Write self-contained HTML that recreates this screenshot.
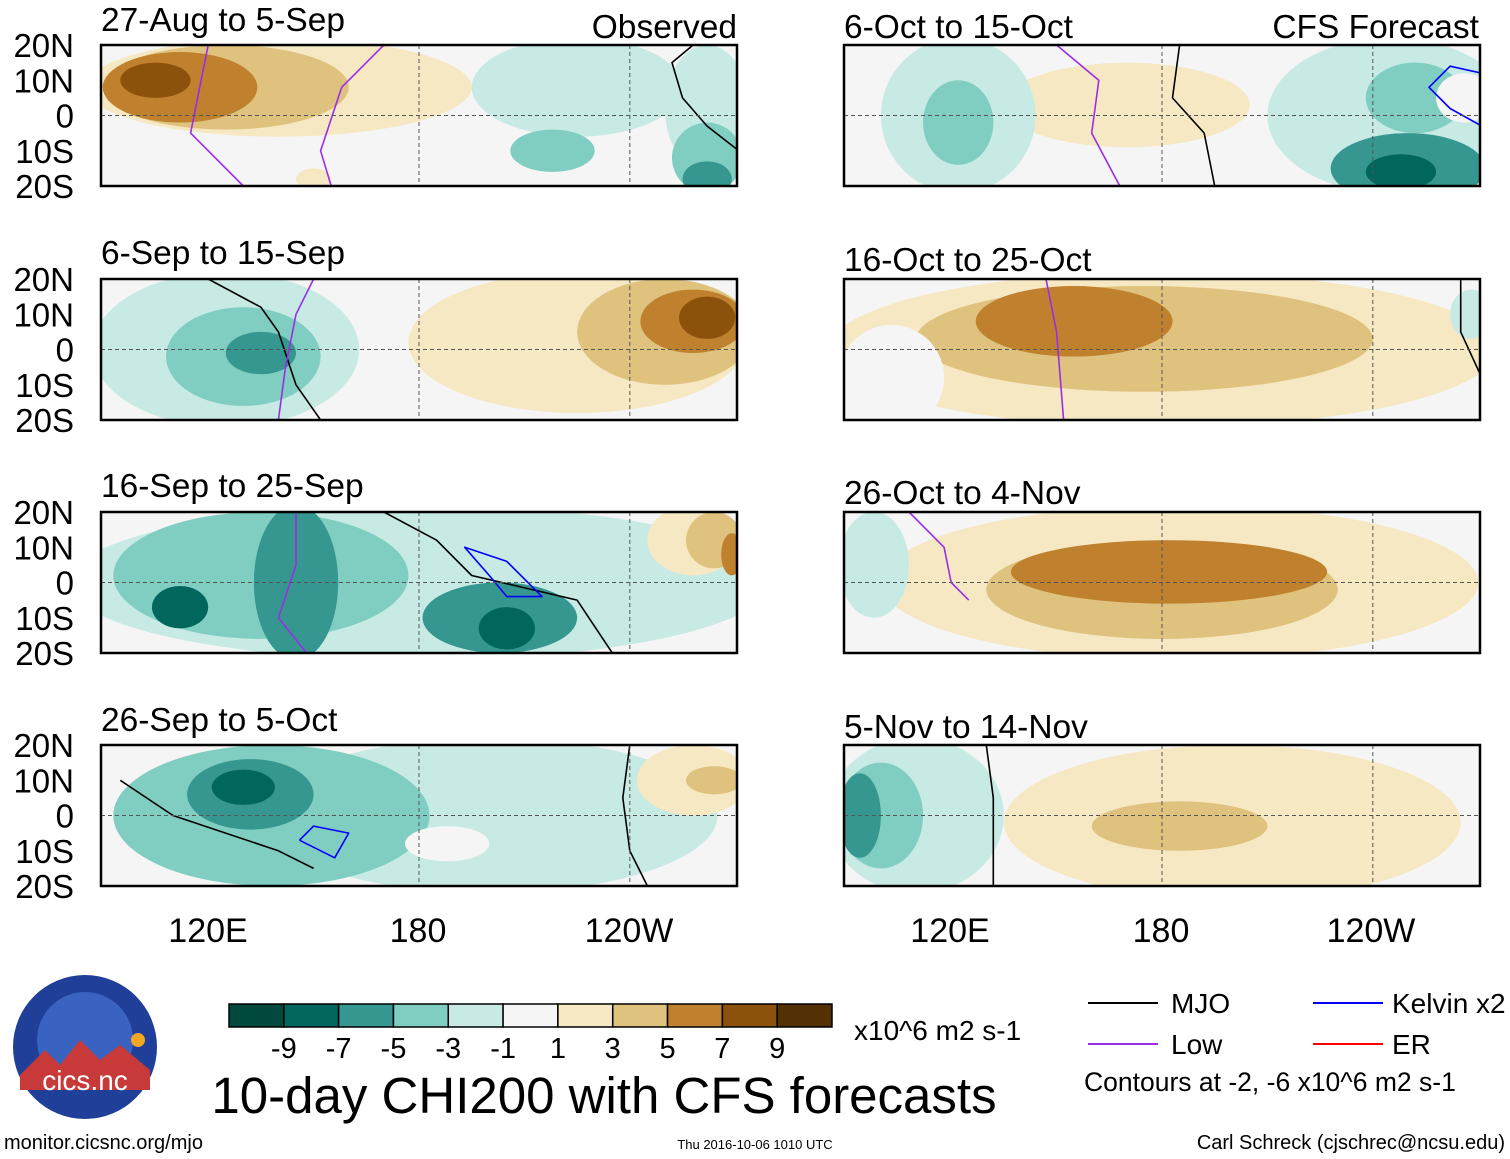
<!DOCTYPE html>
<html><head><meta charset="utf-8">
<style>
body{margin:0;background:#fff;}
svg{display:block;font-family:"Liberation Sans",sans-serif;}
</style></head>
<body>
<svg id="fig" width="1510" height="1159" viewBox="0 0 1510 1159">
<defs></defs>
<g id="panels"></g>
<g id="colorbar"></g>

<g font-size="33.5">
<text x="101" y="31">27-Aug to 5-Sep</text>
<text x="737" y="38" text-anchor="end">Observed</text>
<text x="101" y="264">6-Sep to 15-Sep</text>
<text x="101" y="497">16-Sep to 25-Sep</text>
<text x="101" y="731">26-Sep to 5-Oct</text>
<text x="844" y="38">6-Oct to 15-Oct</text>
<text x="1479" y="38" text-anchor="end">CFS Forecast</text>
<text x="844" y="271">16-Oct to 25-Oct</text>
<text x="844" y="504">26-Oct to 4-Nov</text>
<text x="844" y="738">5-Nov to 14-Nov</text>
</g>

<g font-size="34" text-anchor="middle">
<text x="208" y="942">120E</text>
<text x="418" y="942">180</text>
<text x="629" y="942">120W</text>
<text x="950" y="942">120E</text>
<text x="1161" y="942">180</text>
<text x="1371" y="942">120W</text>
</g>

<text x="854" y="1040" font-size="28">x10^6 m2 s-1</text>
<text x="604" y="1113" font-size="51" text-anchor="middle">10-day CHI200 with CFS forecasts</text>

<g font-size="28">
<line x1="1088" y1="1003" x2="1158" y2="1003" stroke="#000" stroke-width="2"/>
<text x="1171" y="1013">MJO</text>
<line x1="1088" y1="1044" x2="1158" y2="1044" stroke="#9a2ee6" stroke-width="2"/>
<text x="1171" y="1054">Low</text>
<line x1="1313" y1="1003" x2="1383" y2="1003" stroke="#0000ff" stroke-width="2"/>
<text x="1392" y="1013">Kelvin x2</text>
<line x1="1313" y1="1044" x2="1383" y2="1044" stroke="#ff0000" stroke-width="2"/>
<text x="1392" y="1054">ER</text>
<text x="1084" y="1091" font-size="26.5">Contours at -2, -6 x10^6 m2 s-1</text>
</g>

<g>
<circle cx="85" cy="1047" r="72" fill="#1f3f98"/>
<circle cx="85" cy="1040" r="48" fill="#3a62c0"/>
<path d="M20 1075 L45 1050 L60 1065 L80 1040 L100 1060 L120 1045 L150 1070 L150 1090 L20 1090Z" fill="#c83a3a"/>
<circle cx="138" cy="1040" r="7" fill="#f5a623"/>
<text x="85" y="1090" font-size="28" fill="#fff" text-anchor="middle">cics.nc</text>
</g>

<text x="4" y="1149" font-size="20">monitor.cicsnc.org/mjo</text>
<text x="755" y="1149" font-size="13" text-anchor="middle">Thu 2016-10-06 1010 UTC</text>
<text x="1505" y="1149" font-size="20" text-anchor="end">Carl Schreck (cjschrec@ncsu.edu)</text>
</svg>

<script>
const levelColors = ["#00493c","#01665e","#35978f","#80cdc1","#c7eae5","#f5f5f5","#f6e8c3","#dfc27d","#bf812d","#8c510a","#543005"];
const levelLabels = ["-9","-7","-5","-3","-1","1","3","5","7","9"];
const latTicks = ["20N","10N","0","10S","20S"];
const latValues = [20,10,0,-10,-20];
// blobs: [lon, lat, lonRadius, latRadius, levelIndex]
const blobs1 = [[140,8,55,14,6],[125,8,35,12,7],[112,8,22,10,8],[105,10,10,5,9],[225,8,30,14,4],[262,2,12,18,4],[218,-10,12,6,3],[262,-12,10,10,3],[262,-18,7,5,2],[150,-18,5,3,6]];
const blobs2 = [[125,0,38,22,4],[130,-2,22,14,3],[135,-1,10,6,2],[225,2,48,20,6],[250,5,25,15,7],[258,8,15,9,8],[262,9,8,6,9]];
const blobs3 = [[180,0,100,22,4],[135,2,42,18,3],[145,0,12,22,2],[112,-7,8,6,1],[203,-10,22,10,2],[205,-13,8,6,1],[258,12,13,10,6],[264,12,8,8,7],[269,8,3,6,8]];
const blobs4 = [[200,0,65,22,4],[138,0,45,20,3],[132,6,18,10,2],[130,8,9,5,1],[188,-8,12,5,5],[258,10,16,10,6],[264,10,8,4,7]];
const blobs5 = [[170,3,35,12,6],[122,0,22,22,4],[122,-2,10,12,3],[245,0,35,22,4],[252,5,14,10,3],[250,-15,22,10,2],[248,-16,10,5,1],[266,5,8,7,5]];
const blobs6 = [[180,0,95,22,6],[175,3,65,15,7],[155,8,28,10,8],[103,-8,15,15,5],[268,10,6,7,4]];
const blobs7 = [[185,0,85,22,6],[180,-2,50,14,7],[182,3,45,9,8],[98,5,10,15,4]];
const blobs8 = [[200,-2,65,22,6],[185,-3,25,7,7],[110,0,25,22,4],[100,0,12,15,3],[94,0,6,12,2]];
const panelBlobs = [blobs1,blobs2,blobs3,blobs4,blobs5,blobs6,blobs7,blobs8];
// contours: [panelIndex, color, [lon,lat,...]]
const contourPanels = [0,0,0,1,1,2,2,2,3,3,3,4,4,4,5,5,6,7];
const contourColors = ["#9a2ee6","#9a2ee6","#000","#000","#9a2ee6","#000","#0000ff","#9a2ee6","#000","#0000ff","#000","#9a2ee6","#000","#0000ff","#9a2ee6","#000","#9a2ee6","#000"];
const contourPoints = [
 [120,20,118,10,115,-5,130,-20],
 [170,20,158,8,152,-10,155,-20],
 [258,20,252,15,255,5,262,-3,271,-10],
 [120,20,135,12,140,5,145,-10,152,-20],
 [150,20,145,10,142,-5,140,-20],
 [170,20,185,12,195,2,225,-5,235,-20],
 [200,2,193,10,205,6,215,-4,205,-4,200,2],
 [145,20,145,5,140,-10,148,-20],
 [95,10,110,0,140,-10,150,-15],
 [146,-7,150,-3,160,-5,156,-12,146,-7],
 [240,20,238,5,240,-10,245,-20],
 [150,20,162,10,160,-5,168,-20],
 [185,20,183,5,192,-5,195,-20],
 [262,2,256,8,262,14,271,12,271,-3,262,2],
 [147,20,150,5,152,-20],
 [265,20,265,5,271,-8],
 [108,20,118,10,120,0,125,-5],
 [130,20,132,5,132,-20]
];

const NS="http://www.w3.org/2000/svg";
const panelX=[101,101,101,101,844,844,844,844];
const panelY=[45,279,512,745,45,279,512,745];
const PW=636, PH=141;
function xOf(px,lon){return px+(lon-89.5)*PW/181;}
function yOf(py,lat){return py+(20-lat)*PH/40;}
const g=document.getElementById('panels');
const clipIds=[];
const panelGroups=[];
panelBlobs.forEach((bl,i)=>{
  const px=panelX[i], py=panelY[i];
  const pg=document.createElementNS(NS,'g');
  
  
  const cid='clip'+i;
  const cp=document.createElementNS(NS,'clipPath');cp.setAttribute('id',cid);
  const cr=document.createElementNS(NS,'rect');cr.setAttribute('x',px);cr.setAttribute('y',py);cr.setAttribute('width',PW);cr.setAttribute('height',PH);
  cp.appendChild(cr);document.querySelector('defs').appendChild(cp);
  const bg=document.createElementNS(NS,'rect');
  
  
  bg.setAttribute('x',px);bg.setAttribute('y',py);bg.setAttribute('width',PW);bg.setAttribute('height',PH);bg.setAttribute('fill',levelColors[5]);
  pg.appendChild(bg);
  const fg=document.createElementNS(NS,'g');fg.setAttribute('clip-path','url(#'+cid+')');
  bl.forEach(b=>{
    const e=document.createElementNS(NS,'ellipse');
    
    
    e.setAttribute('cx',xOf(px,b[0]));e.setAttribute('cy',yOf(py,b[1]));
    e.setAttribute('rx',b[2]*PW/181);e.setAttribute('ry',b[3]*PH/40);
    e.setAttribute('fill',levelColors[b[4]]);
    fg.appendChild(e);
  });
  contourPoints.forEach((pts,k)=>{
    if(contourPanels[k]!==i) return;
    let d='';
    for(let j=0;j<pts.length;j+=2){d+=(j?' L':'M')+xOf(px,pts[j]).toFixed(1)+' '+yOf(py,pts[j+1]).toFixed(1);}
    const p=document.createElementNS(NS,'path');
    
    
    p.setAttribute('d',d);p.setAttribute('fill','none');p.setAttribute('stroke',contourColors[k]);p.setAttribute('stroke-width','1.6');
    p.setAttribute('stroke-linejoin','round');
    fg.appendChild(p);
  });
  pg.appendChild(fg);
  [180,240].forEach(lon=>{
    const l=document.createElementNS(NS,'line');
    
    
    l.setAttribute('x1',xOf(px,lon));l.setAttribute('x2',xOf(px,lon));l.setAttribute('y1',py);l.setAttribute('y2',py+PH);
    l.setAttribute('stroke','#555');l.setAttribute('stroke-dasharray','4,3');l.setAttribute('stroke-width','1');
    pg.appendChild(l);
  });
  const eq=document.createElementNS(NS,'line');
  
  
  eq.setAttribute('x1',px);eq.setAttribute('x2',px+PW);eq.setAttribute('y1',yOf(py,0));eq.setAttribute('y2',yOf(py,0));
  eq.setAttribute('stroke','#555');eq.setAttribute('stroke-dasharray','4,3');
  pg.appendChild(eq);
  const fr=document.createElementNS(NS,'rect');
  
  
  fr.setAttribute('x',px);fr.setAttribute('y',py);fr.setAttribute('width',PW);fr.setAttribute('height',PH);
  fr.setAttribute('fill','none');fr.setAttribute('stroke','#000');fr.setAttribute('stroke-width','2.5');
  pg.appendChild(fr);
  if(i<4){
    latTicks.forEach((t,k)=>{
      const tx=document.createElementNS(NS,'text');
      
      
      tx.setAttribute('x',74);tx.setAttribute('y',yOf(py,latValues[k])+12);
      tx.setAttribute('text-anchor','end');tx.setAttribute('font-size','33');
      tx.textContent=t;pg.appendChild(tx);
    });
  }
  g.appendChild(pg);
});
const cb=document.getElementById('colorbar');
const bw=(832-229)/11;
levelColors.forEach((c,k)=>{
  const r=document.createElementNS(NS,'rect');
  
  
  r.setAttribute('x',229+k*bw);r.setAttribute('y',1004);r.setAttribute('width',bw);r.setAttribute('height',23);
  r.setAttribute('fill',c);r.setAttribute('stroke','#000');r.setAttribute('stroke-width','1.5');
  cb.appendChild(r);
});
levelLabels.forEach((t,k)=>{
  const tx=document.createElementNS(NS,'text');
  
  
  tx.setAttribute('x',229+(k+1)*bw);tx.setAttribute('y',1058);
  tx.setAttribute('text-anchor','middle');tx.setAttribute('font-size','29');
  tx.textContent=t;cb.appendChild(tx);
});
</script>
</body></html>
